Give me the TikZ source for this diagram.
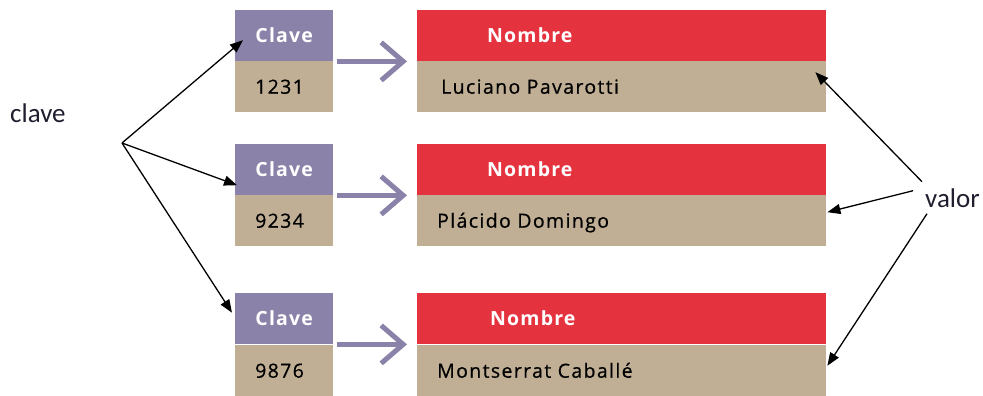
\documentclass[tikz,border=0pt]{standalone}
\usepackage{fontspec}
\setmainfont{Open Sans}[Ligatures=NoCommon, LetterSpace=6]
\newfontfamily\bodyfont{Open Sans}[FakeBold=0.6, Ligatures=NoCommon, LetterSpace=7]
\newfontfamily\calibri{Carlito}
\usetikzlibrary{arrows.meta}
\definecolor{keypurple}{HTML}{8A82A9}
\definecolor{tanbox}{HTML}{C0AF95}
\definecolor{redbox}{HTML}{E5323F}
\definecolor{labelink}{HTML}{1E1E2E}
\begin{document}
\begin{tikzpicture}[x=1pt,y=-1pt,
  cell/.style={anchor=north west, minimum height=51pt, inner ysep=0pt,
    text height=14pt, text depth=0pt, align=left,
    font=\bodyfont\fontsize{19.5}{24}\selectfont},
  keyhead/.style={cell, fill=keypurple, text=white, font=\bfseries\fontsize{19.5}{24}\selectfont,
    minimum width=98pt, text width=98pt, inner xsep=0pt, align=center},
  keybody/.style={cell, fill=tanbox, text=black, inner xsep=20pt, text width=58pt},
  valhead/.style={cell, fill=redbox, text=white, font=\bfseries\fontsize{19.5}{24}\selectfont,
    inner xsep=#1, text width=409pt-2*#1},
  valbody/.style={cell, fill=tanbox, text=black, inner xsep=#1, text width=409pt-2*#1},
  link/.style={draw=keypurple, line width=5pt, shorten <=4pt, shorten >=10pt,
    -{Straight Barb[length=22pt,width=38pt]}},
  pointer/.style={draw=black, line width=1.3pt, -{Triangle[length=13pt,width=10pt]}},
  outer/.style={inner sep=0pt, text=labelink, font=\calibri\fontsize{27}{30}\selectfont}
]
\useasboundingbox (0,0) rectangle (983,396);

% row 1
\node[keyhead] (k1h) at (235,10) {Clave};
\node[keybody] (k1b) at (235,61) {1231};
\node[valhead=70pt] (v1h) at (417,10) {Nombre};
\node[valbody=24pt] (v1b) at (417,61) {Luciano Pavarotti};
% row 2
\node[keyhead] (k2h) at (235,144) {Clave};
\node[keybody] (k2b) at (235,195) {9234};
\node[valhead=70pt] (v2h) at (417,144) {Nombre};
\node[valbody=20pt] (v2b) at (417,195) {Plácido Domingo};
% row 3
\node[keyhead] (k3h) at (235,293) {Clave};
\node[keybody] (k3b) at (235,345) {9876};
\node[valhead=73pt] (v3h) at (417,293) {Nombre};
\node[valbody=20pt] (v3b) at (417,345) {Montserrat Caballé};

% key -> value links
\draw[link] (k1h.south east) -- (v1h.south west);
\draw[link] (k2h.south east) -- (v2h.south west);
\draw[link] (k3h.south east) -- (v3h.south west);

% outer labels
\node[outer, anchor=base west] (clave) at (10,122) {clave};
\node[outer, anchor=base west] (valor) at (925,207) {valor};
\coordinate (fan) at (122,143);

\draw[pointer] (fan) -- ([shift={(8,4.5)}]k1h.west);
\draw[pointer] (fan) -- ([shift={(2,15.5)}]k2h.west);
\draw[pointer] (fan) -- ([shift={(-3,-6)}]k3h.west);

\draw[pointer] ([shift={(-3,-16)}]valor.west) -- ([shift={(-11,-14.5)}]v1b.east);
\draw[pointer] ([shift={(-12,-7)}]valor.west) -- ([shift={(1,-8.5)}]v2b.east);
\draw[pointer] ([shift={(2,16)}]valor.west) -- ([shift={(1,-5)}]v3b.east);
\end{tikzpicture}
\end{document}
